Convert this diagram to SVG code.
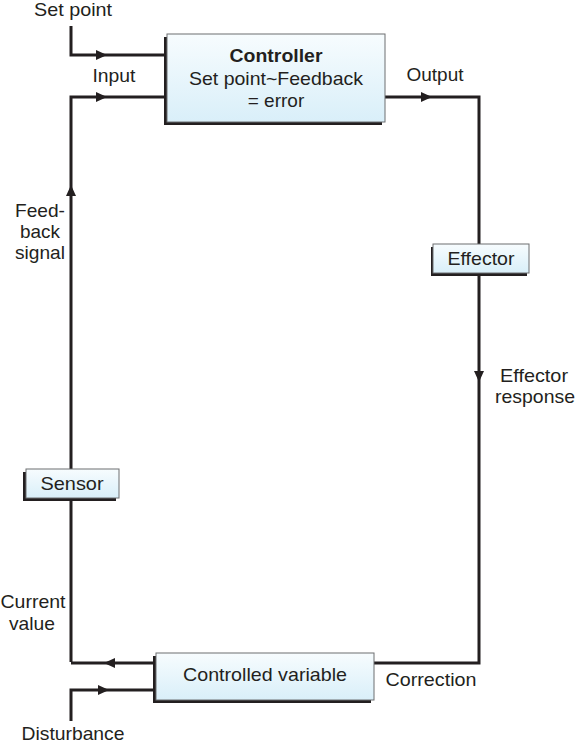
<svg xmlns="http://www.w3.org/2000/svg" width="575" height="744" viewBox="0 0 575 744">
<defs>
<linearGradient id="g" x1="0" y1="0" x2="0" y2="1">
<stop offset="0" stop-color="#f7fcfe"/>
<stop offset="1" stop-color="#d9eff9"/>
</linearGradient>
<style>
.t{font-family:"Liberation Sans",Arial,sans-serif;font-size:19px;fill:#231f20;text-anchor:middle}
.b{font-weight:bold}
.ln{fill:none;stroke:#231f20;stroke-width:3;stroke-linejoin:miter}
.sh{fill:#231f20}
.bx{fill:url(#g);stroke:#6d6e70;stroke-width:1}
.ah{fill:#231f20}
</style>
</defs>
<rect width="575" height="744" fill="#ffffff"/>
<g id="connectors">
<polyline class="ln" points="71,26 71,55 167,55"/>
<polyline class="ln" points="71,662 71,97 167,97"/>
<polyline class="ln" points="385,97 479,97 479,663 374,663"/>
<polyline class="ln" points="155,663 71,663"/>
<polyline class="ln" points="71,721 71,690 156,690"/>
<polygon class="ah" points="96,50 107,55 96,60"/>
<polygon class="ah" points="96,92 107,97 96,102"/>
<polygon class="ah" points="421,92 432,97 421,102"/>
<polygon class="ah" points="474,371 479,382 484,371"/>
<polygon class="ah" points="66,196 71,185 76,196"/>
<polygon class="ah" points="115,658 104,663 115,668"/>
<polygon class="ah" points="98,685 109,690 98,695"/>
</g>
<g id="controller">
<rect class="sh" x="164" y="37" width="218" height="88"/>
<rect class="bx" x="167" y="34" width="218" height="88"/>
<text class="t b" x="276" y="62" textLength="93" lengthAdjust="spacingAndGlyphs">Controller</text>
<text class="t" x="276" y="85" textLength="174" lengthAdjust="spacingAndGlyphs">Set point~Feedback</text>
<text class="t" x="276" y="107">= error</text>
</g>
<g id="effector">
<rect class="sh" x="431" y="247" width="96" height="29"/>
<rect class="bx" x="433" y="244" width="96" height="29"/>
<text class="t" x="481" y="265" textLength="67" lengthAdjust="spacingAndGlyphs">Effector</text>
</g>
<g id="sensor">
<rect class="sh" x="23" y="472" width="93" height="29"/>
<rect class="bx" x="26" y="469" width="93" height="29"/>
<text class="t" x="72" y="490" textLength="63" lengthAdjust="spacingAndGlyphs">Sensor</text>
</g>
<g id="controlled-variable">
<rect class="sh" x="153" y="656" width="218" height="47"/>
<rect class="bx" x="156" y="653" width="218" height="47"/>
<text class="t" x="265" y="681" textLength="164" lengthAdjust="spacingAndGlyphs">Controlled variable</text>
</g>
<g id="labels">
<text class="t" x="73" y="16" textLength="78" lengthAdjust="spacingAndGlyphs">Set point</text>
<text class="t" x="114" y="82" textLength="43" lengthAdjust="spacingAndGlyphs">Input</text>
<text class="t" x="435" y="81" textLength="57" lengthAdjust="spacingAndGlyphs">Output</text>
<text class="t" x="534" y="382" textLength="68" lengthAdjust="spacingAndGlyphs">Effector</text>
<text class="t" x="535" y="403" textLength="80" lengthAdjust="spacingAndGlyphs">response</text>
<text class="t" x="40" y="217" textLength="50" lengthAdjust="spacingAndGlyphs">Feed-</text>
<text class="t" x="40" y="238" textLength="40" lengthAdjust="spacingAndGlyphs">back</text>
<text class="t" x="40" y="259" textLength="50" lengthAdjust="spacingAndGlyphs">signal</text>
<text class="t" x="33" y="608" textLength="65" lengthAdjust="spacingAndGlyphs">Current</text>
<text class="t" x="32" y="630" textLength="46" lengthAdjust="spacingAndGlyphs">value</text>
<text class="t" x="431" y="686" textLength="91" lengthAdjust="spacingAndGlyphs">Correction</text>
<text class="t" x="73" y="740" textLength="103" lengthAdjust="spacingAndGlyphs">Disturbance</text>
</g>
</svg>
